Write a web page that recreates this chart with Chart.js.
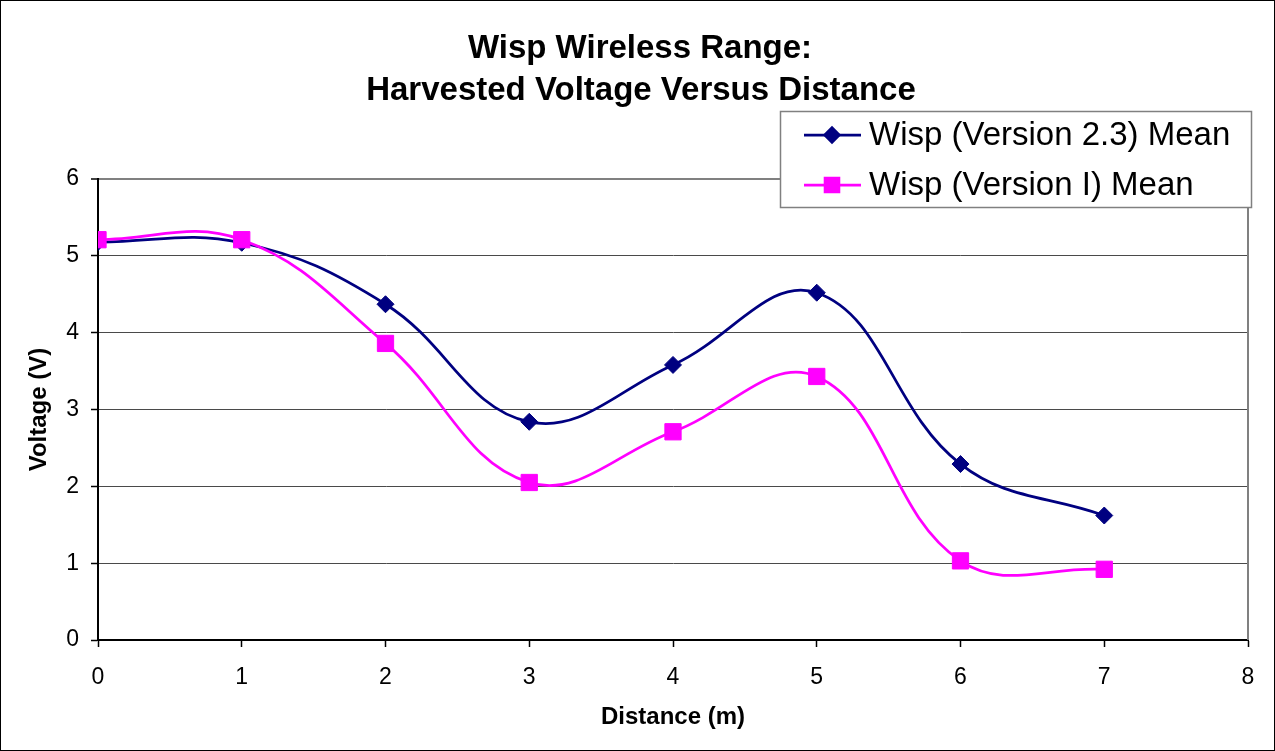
<!DOCTYPE html>
<html>
<head>
<meta charset="utf-8">
<script src="https://cdn.jsdelivr.net/npm/chart.js@4/dist/chart.umd.min.js"></script>
<style>
html,body{margin:0;padding:0;background:#fff;}
#wrap{width:1275px;height:751px;}
</style>
</head>
<body>
<div id="wrap"><canvas id="chart" width="1275" height="751"></canvas></div>
<script>
// data
const distance   = [0, 1, 2, 3, 4, 5, 6, 7];
const v23Mean    = [5.18, 5.17, 4.37, 2.84, 3.58, 4.52, 2.29, 1.62];
const v1Mean     = [5.21, 5.21, 3.86, 2.05, 2.71, 3.43, 1.03, 0.92];
const seriesNames = ['Wisp (Version 2.3) Mean', 'Wisp (Version I) Mean'];
const titleLines  = ['Wisp Wireless Range:', 'Harvested Voltage Versus Distance'];
const xTitle = 'Distance (m)';
const yTitle = 'Voltage (V)';

const FONT = "'Liberation Sans', Arial, Helvetica, sans-serif";
function el(id){return document.getElementById(id);}
function pts(ys){return distance.map((x,i)=>({x:x, y:ys[i]}));}

// title, legend box, frame
const decor = {
  id:'decor',
  beforeDatasetsDraw(chart){
    const {ctx, chartArea:a} = chart;
    ctx.save();
    ctx.strokeStyle='#808080'; ctx.lineWidth=2;
    ctx.beginPath(); ctx.moveTo(a.right, a.top); ctx.lineTo(a.right, a.bottom); ctx.stroke();
    ctx.restore();
  },
  afterDraw(chart){
    const {ctx, width, height} = chart;
    ctx.save();
    // outer frame
    ctx.strokeStyle='#000'; ctx.lineWidth=1;
    ctx.strokeRect(0.5,0.5,width-1,height-1);
    // title
    ctx.fillStyle='#000'; ctx.textAlign='center'; ctx.textBaseline='middle';
    ctx.font='bold 33px '+FONT;
    ctx.fillText(titleLines[0], 640, 49);
    ctx.fillText(titleLines[1], 641, 91);
    // legend
    const bx=780, by=111, bw=471, bh=96;
    ctx.fillStyle='#fff'; ctx.fillRect(bx,by,bw,bh);
    ctx.strokeStyle='#808080'; ctx.lineWidth=1.5;
    ctx.strokeRect(bx+0.5,by+0.5,bw,bh);
    ctx.font='33px '+FONT; ctx.textAlign='left';
    chart.data.datasets.forEach((ds,i)=>{
      const y = by+24+i*50;
      ctx.strokeStyle=ds.borderColor; ctx.lineWidth=ds.borderWidth;
      ctx.beginPath(); ctx.moveTo(804,y); ctx.lineTo(861,y); ctx.stroke();
      ctx.fillStyle=ds.pointBackgroundColor; ctx.strokeStyle=ds.pointBorderColor;
      Chart.helpers.drawPoint(ctx,{pointStyle:ds.pointStyle, radius:ds.pointRadius*0.85, rotation:0, borderWidth:1}, 832, y);
      ctx.fillStyle='#000';
      ctx.fillText(ds.label, 869, y+1);
    });
    ctx.restore();
  }
};

const chart = new Chart(el('chart').getContext('2d'), {
  type:'scatter',
  data:{
    datasets:[
      {label:seriesNames[0], data:pts(v23Mean), showLine:true, tension:0.4, order:1,
       borderColor:'#000080', borderWidth:2.75, pointStyle:'rectRot', pointRadius:8.5,
       pointBackgroundColor:'#000080', pointBorderColor:'#000080', pointBorderWidth:1},
      {label:seriesNames[1], data:pts(v1Mean), showLine:true, tension:0.4, order:0,
       borderColor:'#FF00FF', borderWidth:2.75, pointStyle:'rect', pointRadius:11.5,
       pointBackgroundColor:'#FF00FF', pointBorderColor:'#FF00FF', pointBorderWidth:1}
    ]
  },
  options:{
    responsive:false, animation:false, devicePixelRatio:1,
    layout:{padding:{top:179, right:27, bottom:0, left:0}},
    plugins:{legend:{display:false}, title:{display:false}, tooltip:{enabled:false}},
    elements:{point:{hoverRadius:0}},
    scales:{
      x:{
        type:'linear', min:0, max:8,
        ticks:{stepSize:1, color:'#000', font:{family:FONT, size:23}, padding:17, maxRotation:0},
        grid:{drawOnChartArea:false, drawTicks:true, tickLength:7, tickColor:'#000', tickWidth:1.5},
        border:{color:'#000', width:2},
        title:{display:true, text:xTitle, color:'#000', font:{family:FONT, size:24, weight:'bold'}, padding:{top:0, bottom:19}},
        afterFit(s){s.height=111;}
      },
      y:{
        type:'linear', min:0, max:6,
        ticks:{stepSize:1, color:'#000', font:{family:FONT, size:23}, padding:12},
        grid:{color:c=>c.tick && c.tick.value===6 ? '#808080' : '#4a4a4a',
              lineWidth:c=>c.tick && c.tick.value===6 ? 2 : 1,
              drawTicks:true, tickLength:7, tickColor:'#000', tickWidth:1.5},
        border:{color:'#000', width:2},
        title:{display:true, text:yTitle, color:'#000', font:{family:FONT, size:24, weight:'bold'}, padding:{top:25, bottom:0}},
        afterFit(s){s.width=98;}
      }
    }
  },
  plugins:[decor]
});
</script>
</body>
</html>
